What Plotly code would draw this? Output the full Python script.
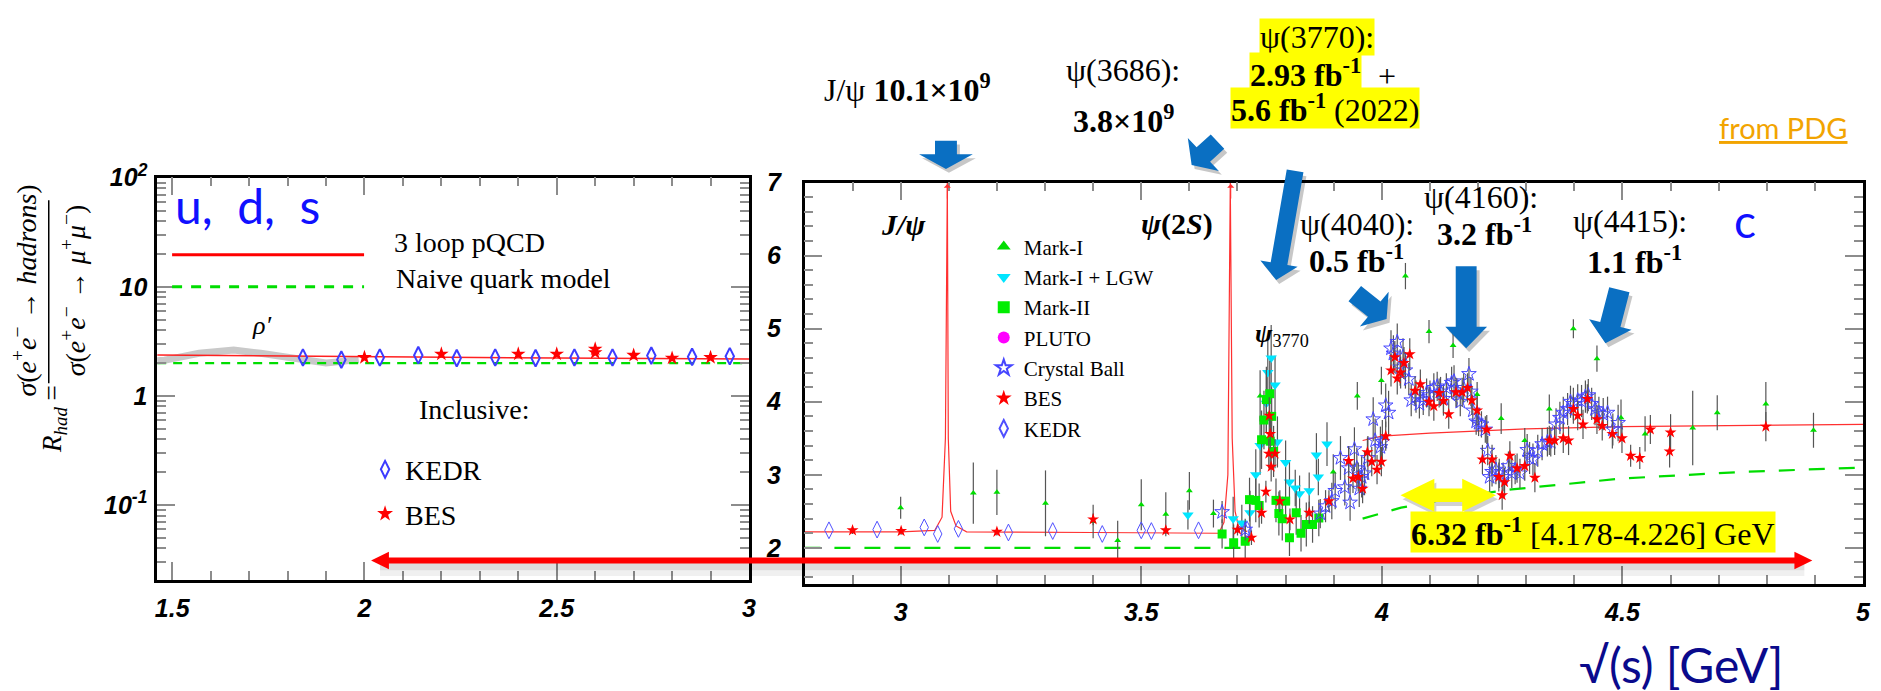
import math
import plotly.graph_objects as go

W, H = 1881, 691

# ---------------- left panel: light-quark region (log scale) ----------------
rho_E = [1.461, 1.48, 1.57, 1.66, 1.73, 1.80, 1.86, 1.90, 1.93, 1.985]
rho_R = [2.10, 2.12, 2.46, 2.64, 2.46, 2.28, 2.12, 2.00, 2.05, 2.15]

pqcd_left_E = [1.461, 2.0, 2.5, 3.0]
pqcd_left_R = [2.37, 2.28, 2.22, 2.18]
naive_left_E = [1.461, 3.0]
naive_left_R = [2.0, 2.0]

kedr_left_E = [1.84, 1.94, 2.04, 2.14, 2.24, 2.34, 2.445, 2.546, 2.645, 2.746, 2.852, 2.95]
kedr_left_R = [2.25, 2.15, 2.25, 2.36, 2.22, 2.25, 2.22, 2.25, 2.25, 2.34, 2.28, 2.31]
bes_left_E = [2.0, 2.2, 2.4, 2.5, 2.6, 2.6, 2.7, 2.8, 2.9]
bes_left_R = [2.25, 2.42, 2.42, 2.42, 2.69, 2.49, 2.36, 2.22, 2.25]

# ---------------- right panel: charm region ----------------
pqcd_E = [2.80, 3.00, 3.071, 3.086, 3.093, 3.097, 3.099, 3.104, 3.115, 3.137, 3.40,
          3.661, 3.672, 3.680, 3.685, 3.689, 3.695, 3.702, 3.72, None,
          3.96, 4.00, 4.10, 4.20, 4.30, 4.50, 4.75, 5.00]
pqcd_R = [2.22, 2.22, 2.24, 2.42, 3.50, 7.00, 3.50, 2.50, 2.30, 2.22, 2.21,
          2.20, 2.35, 3.00, 7.00, 3.50, 2.50, 2.30, 2.22, None,
          3.47, 3.53, 3.57, 3.60, 3.63, 3.66, 3.68, 3.69]

naive_E = [2.80, 3.72, None, 3.96, 4.04, 4.16, 4.27, 4.50, 4.75, 5.00]
naive_R = [2.00, 2.00, None, 2.40, 2.55, 2.70, 2.80, 2.95, 3.04, 3.10]

mark1_E = [3.000, 3.151, 3.200, 3.301, 3.400, 3.451, 3.500, 3.551, 3.600, 3.650,
           3.747, 3.899, 3.949, 3.999, 4.049, 4.098, 4.148, 4.198, 4.248, 4.297,
           4.348, 4.398, 4.447, 4.497, 4.547, 4.646, 4.697, 4.798, 4.897]
mark1_R = [2.55, 2.75, 2.76, 2.61, 2.36, 2.10, 2.59, 2.46, 2.78, 2.47,
           4.08, 3.04, 4.08, 4.29, 5.72, 4.96, 4.77, 4.10, 3.77, 3.47,
           3.90, 5.00, 4.59, 3.78, 3.56, 3.64, 3.85, 3.97, 3.61]
mark1_err = [0.15, 0.42, 0.31, 0.45, 0.23, 0.27, 0.35, 0.30, 0.26, 0.19,
             0.35, 0.24, 0.19, 0.19, 0.18, 0.16, 0.17, 0.17, 0.21, 0.17,
             0.20, 0.13, 0.18, 0.25, 0.24, 0.51, 0.24, 0.30, 0.24]

lgw_E = [3.597, 3.691, 3.709, 3.726, 3.738, 3.747, 3.760, 3.763, 3.770, 3.778,
         3.783, 3.800, 3.808, 3.820, 3.829, 3.849, 3.864, 3.868, 3.886]
lgw_R = [2.45, 2.40, 2.34, 2.48, 3.00, 3.40, 3.98, 4.40, 4.60, 4.23,
         3.45, 3.17, 2.90, 2.82, 2.74, 2.78, 3.27, 2.97, 3.42]
lgw_err = [0.20, 0.30, 0.25, 0.30, 0.35, 0.40, 0.40, 0.45, 0.45, 0.40,
           0.35, 0.30, 0.30, 0.25, 0.25, 0.25, 0.30, 0.25, 0.30]

mark2_E = [3.668, 3.692, 3.716, 3.725, 3.738, 3.745, 3.750, 3.755, 3.760, 3.767,
           3.771, 3.768, 3.775, 3.780, 3.786, 3.793, 3.800, 3.808, 3.822, 3.832,
           3.843, 3.856, 3.869]
mark2_R = [2.19, 2.07, 2.09, 2.66, 2.65, 2.58, 3.48, 3.75, 4.03, 4.11,
           3.80, 3.46, 3.32, 2.65, 2.47, 2.40, 2.64, 2.14, 2.48, 2.20,
           2.32, 2.32, 2.41]
mark2_err = [0.20, 0.25, 0.25, 0.30, 0.30, 0.30, 0.40, 0.40, 0.45, 0.45,
             0.40, 0.35, 0.35, 0.30, 0.30, 0.30, 0.30, 0.25, 0.30, 0.25,
             0.30, 0.25, 0.25]

# PLUTO has a legend entry but no point inside this window
pluto_E = [None]
pluto_R = [None]

cb_E = [3.668, 3.716, 3.872, 3.883, 3.896, 3.903, 3.914, 3.923, 3.931, 3.934,
        3.943, 3.948, 3.953, 3.958, 3.964, 3.971, 3.982, 3.986, 3.997, 4.001,
        4.008, 4.014, 4.019, 4.024, 4.032, 4.038, 4.044, 4.049, 4.056, 4.061,
        4.071, 4.078, 4.086, 4.093, 4.100, 4.108, 4.115, 4.122, 4.128, 4.134,
        4.145, 4.150, 4.156, 4.163, 4.170, 4.181, 4.185, 4.189, 4.196, 4.201,
        4.207, 4.215, 4.220, 4.224, 4.229, 4.237, 4.244, 4.252, 4.263, 4.270,
        4.277, 4.287, 4.302, 4.307, 4.314, 4.324, 4.333, 4.344, 4.351, 4.362,
        4.370, 4.377, 4.386, 4.392, 4.398, 4.407, 4.415, 4.423, 4.429, 4.436,
        4.443, 4.451, 4.460, 4.469, 4.480, 4.491]
cb_R = [2.49, 2.25, 2.47, 2.57, 2.64, 2.78, 3.23, 2.83, 3.09, 2.62,
        3.35, 3.09, 2.81, 2.97, 3.02, 3.23, 3.76, 3.47, 3.38, 3.45,
        3.95, 3.85, 4.73, 4.66, 4.82, 4.47, 4.62, 4.43, 4.31, 4.02,
        4.07, 3.97, 4.02, 4.12, 4.09, 4.19, 4.21, 4.14, 4.04, 4.19,
        4.26, 4.28, 4.12, 4.00, 4.19, 4.38, 4.14, 3.88, 3.73, 3.71,
        3.69, 3.62, 3.33, 2.97, 3.04, 3.07, 3.02, 2.97, 3.12, 3.02,
        3.07, 3.02, 3.34, 3.23, 3.21, 3.33, 3.42, 3.45, 3.45, 3.69,
        3.78, 3.85, 3.90, 4.00, 3.97, 4.02, 4.01, 4.07, 4.09, 3.97,
        3.90, 3.85, 3.83, 3.85, 3.62, 3.71]
cb_err = [0.15, 0.15, 0.20, 0.22, 0.25, 0.25, 0.30, 0.25, 0.30, 0.25,
          0.30, 0.28, 0.25, 0.28, 0.30, 0.30, 0.30, 0.30, 0.28, 0.30,
          0.30, 0.30, 0.25, 0.25, 0.25, 0.25, 0.25, 0.25, 0.22, 0.22,
          0.22, 0.20, 0.20, 0.20, 0.20, 0.20, 0.20, 0.20, 0.20, 0.20,
          0.22, 0.22, 0.20, 0.20, 0.20, 0.22, 0.20, 0.20, 0.18, 0.18,
          0.18, 0.18, 0.20, 0.20, 0.20, 0.20, 0.20, 0.20, 0.20, 0.20,
          0.20, 0.20, 0.22, 0.22, 0.22, 0.22, 0.22, 0.20, 0.20, 0.22,
          0.22, 0.22, 0.22, 0.22, 0.22, 0.22, 0.22, 0.22, 0.22, 0.22,
          0.22, 0.22, 0.22, 0.22, 0.22, 0.25]

bes_E = [2.900, 3.001, 3.200, 3.400, 3.551, 3.700, 3.729, 3.750, 3.759, 3.765,
         3.766, 3.768, 3.770, 3.778, 3.788, 3.809, 3.849, 3.890, 3.931, 3.940,
         3.951, 3.960, 3.970, 3.979, 3.990, 3.999, 4.008, 4.019, 4.027, 4.032,
         4.039, 4.046, 4.058, 4.069, 4.080, 4.098, 4.108, 4.119, 4.128, 4.139,
         4.154, 4.167, 4.178, 4.187, 4.198, 4.209, 4.218, 4.229, 4.243, 4.250,
         4.255, 4.266, 4.281, 4.297, 4.318, 4.348, 4.359, 4.377, 4.388, 4.398,
         4.407, 4.418, 4.427, 4.447, 4.458, 4.479, 4.499, 4.517, 4.536, 4.558,
         4.598, 4.600, 4.798]
bes_R = [2.24, 2.23, 2.22, 2.39, 2.24, 2.25, 2.14, 2.48, 2.77, 3.29,
         3.81, 3.56, 3.11, 3.29, 2.64, 2.39, 2.48, 2.64, 3.19, 2.95,
         2.97, 2.81, 3.31, 3.18, 3.07, 3.18, 3.53, 4.43, 4.61, 4.32,
         4.40, 4.53, 4.65, 4.15, 4.24, 4.00, 3.94, 4.12, 4.01, 3.83,
         4.13, 4.13, 4.19, 4.02, 3.88, 3.21, 3.62, 3.21, 2.97, 2.72,
         2.90, 3.26, 3.09, 3.12, 2.96, 3.47, 3.47, 3.50, 3.47, 3.90,
         3.81, 3.69, 4.04, 3.76, 3.67, 3.56, 3.50, 3.26, 3.23, 3.62,
         3.32, 3.58, 3.66]
bes_err = [0.05, 0.05, 0.05, 0.08, 0.05, 0.08, 0.10, 0.15, 0.15, 0.20,
           0.25, 0.20, 0.20, 0.20, 0.15, 0.15, 0.15, 0.15, 0.20, 0.20,
           0.20, 0.20, 0.20, 0.20, 0.20, 0.20, 0.20, 0.22, 0.22, 0.22,
           0.22, 0.22, 0.22, 0.20, 0.20, 0.20, 0.20, 0.20, 0.20, 0.20,
           0.20, 0.20, 0.20, 0.20, 0.20, 0.20, 0.20, 0.20, 0.20, 0.20,
           0.20, 0.20, 0.20, 0.20, 0.20, 0.20, 0.20, 0.20, 0.20, 0.20,
           0.20, 0.20, 0.20, 0.20, 0.20, 0.20, 0.20, 0.15, 0.15, 0.20,
           0.22, 0.25, 0.20]

kedr_E = [2.851, 2.951, 3.049, 3.077, 3.120, 3.224, 3.316, 3.419, 3.500, 3.521, 3.619, 3.720]
kedr_R = [2.24, 2.25, 2.28, 2.19, 2.26, 2.21, 2.23, 2.19, 2.24, 2.23, 2.24, 2.25]

spike_E = [3.097, 3.686]

# ---------------- styling ----------------
SERIF = "Liberation Serif"
SANS = "Liberation Sans"
TICK_GREY = "#8c8c8c"
ERR = dict(type="data", thickness=1.2, width=0, color="#555555")

fig = go.Figure()

# left panel traces
fig.add_trace(go.Scatter(x=rho_E, y=rho_R, mode="lines", line=dict(color="#c9c9c9", width=7),
                         showlegend=False, xaxis="x", yaxis="y"))
fig.add_trace(go.Scatter(x=pqcd_left_E, y=pqcd_left_R, mode="lines", line=dict(color="#ff2020", width=1.5),
                         showlegend=False, xaxis="x", yaxis="y"))
fig.add_trace(go.Scatter(x=naive_left_E, y=naive_left_R, mode="lines",
                         line=dict(color="#00dd00", width=2.2, dash="9px,7px"),
                         showlegend=False, xaxis="x", yaxis="y"))
fig.add_trace(go.Scatter(x=kedr_left_E, y=kedr_left_R, mode="markers", name="KEDR",
                         marker=dict(symbol="diamond-tall-open", size=12, color="#3c3cff", line=dict(width=2)),
                         legend="legend3", legendgroup="inc_kedr", xaxis="x", yaxis="y"))
fig.add_trace(go.Scatter(x=bes_left_E, y=bes_left_R, mode="markers", name="BES",
                         marker=dict(symbol="star", size=11, color="#ff0000"),
                         legend="legend3", legendgroup="inc_bes", xaxis="x", yaxis="y"))

# right panel curves
fig.add_trace(go.Scatter(x=pqcd_E, y=pqcd_R, mode="lines", line=dict(color="#ff3030", width=1.2),
                         showlegend=False, connectgaps=False, xaxis="x2", yaxis="y2"))
fig.add_trace(go.Scatter(x=naive_E, y=naive_R, mode="lines",
                         line=dict(color="#00dd00", width=2.2, dash="16px,14px"),
                         showlegend=False, connectgaps=False, xaxis="x2", yaxis="y2"))

# right panel data
fig.add_trace(go.Scatter(x=mark1_E, y=mark1_R, mode="markers", name="Mark-I",
                         error_y=dict(array=mark1_err, **ERR),
                         marker=dict(symbol="triangle-up", size=6, color="#00dd00"),
                         xaxis="x2", yaxis="y2"))
fig.add_trace(go.Scatter(x=lgw_E, y=lgw_R, mode="markers", name="Mark-I + LGW",
                         error_y=dict(array=lgw_err, **ERR),
                         marker=dict(symbol="triangle-down", size=10, color="#00e5ff"),
                         xaxis="x2", yaxis="y2"))
fig.add_trace(go.Scatter(x=mark2_E, y=mark2_R, mode="markers", name="Mark-II",
                         error_y=dict(array=mark2_err, **ERR),
                         marker=dict(symbol="square", size=9, color="#00ee00"),
                         xaxis="x2", yaxis="y2"))
fig.add_trace(go.Scatter(x=pluto_E, y=pluto_R, mode="markers", name="PLUTO",
                         marker=dict(symbol="circle", size=10, color="#ff00ff"),
                         xaxis="x2", yaxis="y2"))
fig.add_trace(go.Scatter(x=cb_E, y=cb_R, mode="markers", name="Crystal Ball",
                         error_y=dict(array=cb_err, **ERR),
                         marker=dict(symbol="star-open", size=11, color="#4646ff", line=dict(width=1)),
                         xaxis="x2", yaxis="y2"))
fig.add_trace(go.Scatter(x=bes_E, y=bes_R, mode="markers", name="BES",
                         error_y=dict(array=bes_err, **ERR),
                         marker=dict(symbol="star", size=9, color="#ff0000"),
                         xaxis="x2", yaxis="y2"))
fig.add_trace(go.Scatter(x=kedr_E, y=kedr_R, mode="markers", name="KEDR",
                         marker=dict(symbol="diamond-tall-open", size=12, color="#5050ff", line=dict(width=1)),
                         xaxis="x2", yaxis="y2"))


def px(x):
    return x / W


def py(y):
    return 1 - y / H


def path_of(pts):
    return "M " + " L ".join(f"{px(x):.5f},{py(y):.5f}" for x, y in pts) + " Z"


def block_arrow(tail, tip, shaft, head_w, head_len, dx=0, dy=0):
    (x0, y0), (x1, y1) = tail, tip
    L = math.hypot(x1 - x0, y1 - y0)
    ux, uy = (x1 - x0) / L, (y1 - y0) / L
    nx, ny = -uy, ux
    bx, by = x1 - ux * head_len, y1 - uy * head_len
    pts = [(x0 + nx * shaft / 2, y0 + ny * shaft / 2), (bx + nx * shaft / 2, by + ny * shaft / 2),
           (bx + nx * head_w / 2, by + ny * head_w / 2), (x1, y1),
           (bx - nx * head_w / 2, by - ny * head_w / 2), (bx - nx * shaft / 2, by - ny * shaft / 2),
           (x0 - nx * shaft / 2, y0 - ny * shaft / 2)]
    return path_of([(x + dx, y + dy) for x, y in pts])


def double_arrow(xl, xr, yc, shaft, head_h, head_len, dx=0, dy=0):
    pts = [(xl, yc), (xl + head_len, yc - head_h / 2), (xl + head_len, yc - shaft / 2),
           (xr - head_len, yc - shaft / 2), (xr - head_len, yc - head_h / 2), (xr, yc),
           (xr - head_len, yc + head_h / 2), (xr - head_len, yc + shaft / 2),
           (xl + head_len, yc + shaft / 2), (xl + head_len, yc + head_h / 2)]
    return path_of([(x + dx, y + dy) for x, y in pts])


BLUE = "#0a6fc2"
shapes = []
blue_arrows = [
    ((949, 126), (949, 155), 22, 54, 15),
    ((1222, 127), (1196, 151), 20, 46, 16),
    ((1300, 157), (1281, 269), 17, 38, 17),
    ((1360, 283), (1392, 309), 20, 46, 16),
    ((1472, 255), (1472, 339), 21, 42, 22),
    ((1626, 279), (1612, 334), 21, 44, 20),
]
for tail, tip, s, hw, hl in blue_arrows:
    shapes.append(dict(type="path", xref="paper", yref="paper", layer="above",
                       path=block_arrow(tail, tip, s, hw, hl, 3, 4),
                       fillcolor="rgba(0,0,0,0.22)", line=dict(width=0)))
    shapes.append(dict(type="path", xref="paper", yref="paper", layer="above",
                       path=block_arrow(tail, tip, s, hw, hl),
                       fillcolor=BLUE, line=dict(width=0)))

# yellow double arrow marking the 4.178-4.226 GeV scan
shapes.append(dict(type="path", xref="paper", yref="paper", layer="above",
                   path=double_arrow(1406, 1502, 490, 14, 34, 34, 2, 4),
                   fillcolor="rgba(0,0,0,0.18)", line=dict(width=0)))
shapes.append(dict(type="path", xref="paper", yref="paper", layer="above",
                   path=double_arrow(1406, 1502, 490, 14, 34, 34),
                   fillcolor="#ffff00", line=dict(width=0)))

# long red double arrow across both panels
shapes.append(dict(type="rect", xref="paper", yref="paper", layer="above",
                   x0=px(380), x1=px(1812), y0=py(567), y1=py(559),
                   fillcolor="rgba(0,0,0,0.13)", line=dict(width=0)))
shapes.append(dict(type="rect", xref="paper", yref="paper", layer="above",
                   x0=px(380), x1=px(1812), y0=py(573), y1=py(567),
                   fillcolor="rgba(0,0,0,0.06)", line=dict(width=0)))
shapes.append(dict(type="path", xref="paper", yref="paper", layer="above",
                   path=double_arrow(371, 1820, 557, 6, 18, 18),
                   fillcolor="#ff0000", line=dict(width=0)))

# legend keys of the model curves in the left panel
shapes.append(dict(type="line", xref="paper", yref="paper", layer="above",
                   x0=px(171), x1=px(364), y0=py(243), y1=py(243),
                   line=dict(color="#ff0000", width=3)))
shapes.append(dict(type="line", xref="paper", yref="paper", layer="above",
                   x0=px(171), x1=px(364), y0=py(276), y1=py(276),
                   line=dict(color="#00dd00", width=3, dash="10px,9px")))

# fraction bar of the R_had definition
shapes.append(dict(type="line", xref="paper", yref="paper",
                   x0=px(47), x1=px(47), y0=py(187), y1=py(375),
                   line=dict(color="black", width=1.5)))

annotations = []


def text(t, x, y, size=32, family=SERIF, color="black", xanchor="center", bg=None, angle=0):
    d = dict(text=t, x=px(x), y=py(y), xref="paper", yref="paper", showarrow=False,
             xanchor=xanchor, yanchor="middle", textangle=angle, borderpad=0,
             font=dict(family=family, size=size, color=color))
    if bg:
        d["bgcolor"] = bg
    annotations.append(d)


YEL = "#ffff00"
text("J/ψ <b>10.1×10<sup>9</sup></b>", 910, 72)
text("ψ(3686):", 1127, 53)
text("<b>3.8×10<sup>9</sup></b>", 1127, 104)
text("ψ(3770):", 1322, 20, bg=YEL)
text("<b>2.93 fb<sup>-1</sup></b>", 1310, 56, bg=YEL)
text("+", 1392, 60)
text("<b>5.6 fb<sup>-1</sup></b> (2022)", 1330, 92, bg=YEL)
text("ψ(4040):", 1362, 212)
text("<b>0.5 fb<sup>-1</sup></b>", 1362, 247)
text("ψ(4160):", 1487, 184)
text("<b>3.2 fb<sup>-1</sup></b>", 1490, 220)
text("ψ(4415):", 1637, 208)
text("<b>1.1 fb<sup>-1</sup></b>", 1641, 248)
text("<b>6.32 fb<sup>-1</sup></b> [4.178-4.226] GeV", 1600, 528, bg=YEL)
text("c", 1752, 208, size=46, family="Lato", color="#1010ff")
text("<u>from PDG</u>", 1791, 112, size=29, family="Lato", color="#f2a400")
text("√(s) [GeV]", 1688, 664, size=48, family="Lato", color="#0a0a8c")
text("u,\u00a0 d,\u00a0 s", 247, 193, size=48, family="Lato", color="#1010ff")
text("3 loop pQCD", 393, 231, size=28, xanchor="left")
text("Naive quark model", 395, 267, size=28, xanchor="left")
text("Inclusive:", 418, 402, size=28, xanchor="left")
text("<i>ρ′</i>", 261, 316, size=26)
text("<b><i>J/ψ</i></b>", 906, 212, size=30)
text("<b><i>ψ</i>(2<i>S</i>)</b>", 1181, 212, size=30)
text("<b><i>ψ</i></b><sub>3770</sub>", 1287, 325, size=26)
text("<i>R<sub>had</sub></i> =", 53, 412, size=27, angle=-90)
text("<i>σ</i>(<i>e</i><sup>+</sup><i>e</i><sup>−</sup> → <i>hadrons</i>)", 23, 280, size=28, angle=-90)
text("<i>σ</i>(<i>e</i><sup>+</sup><i>e</i><sup>−</sup> → <i>μ</i><sup>+</sup><i>μ</i><sup>−</sup>)", 72, 280,
     size=28, angle=-90)

# arrowheads on the narrow resonance peaks
for e in spike_E:
    annotations.append(dict(x=e, y=6.98, xref="x2", yref="y2", text="", showarrow=True,
                            ax=0, ay=16, arrowhead=1, arrowsize=1.2, arrowwidth=1,
                            arrowcolor="#ff3030"))

TICKFONT = dict(family=SANS, size=25, color="black", weight="bold", style="italic")
common = dict(showline=True, linecolor="black", linewidth=2.5, mirror="allticks",
              ticks="inside", tickcolor=TICK_GREY, tickwidth=1.5, ticklen=18,
              showgrid=False, zeroline=False, tickfont=TICKFONT)
minor = dict(ticks="inside", ticklen=9, tickcolor=TICK_GREY, tickwidth=1.5, showgrid=False)

fig.update_layout(
    width=W, height=H, margin=dict(l=0, r=0, t=0, b=0),
    paper_bgcolor="white", plot_bgcolor="white",
    shapes=shapes, annotations=annotations,
    xaxis=dict(domain=[px(156), px(751)], range=[1.461, 3.0], anchor="y",
               tickvals=[1.5, 2, 2.5, 3], ticktext=["1.5", "2", "2.5", "3"],
               minor=dict(dtick=0.1, tick0=1.5, **minor), ticklabelstandoff=4, **common),
    yaxis=dict(domain=[py(577), py(164)], type="log", range=[-1.6875, 2], anchor="x",
               tickvals=[0.1, 1, 10, 100], ticktext=["10<sup>-1</sup>", "1", "10", "10<sup>2</sup>"],
               minor=dict(dtick="D1", **minor), ticklabelstandoff=2, **common),
    xaxis2=dict(domain=[px(807), px(1871)], range=[2.8006, 5.0], anchor="y2",
                tickvals=[3, 3.5, 4, 4.5, 5], ticktext=["3", "3.5", "4", "4.5", "5"],
                minor=dict(dtick=0.1, tick0=3, **minor), ticklabelstandoff=4, **common),
    yaxis2=dict(domain=[py(581), py(169)], range=[1.507, 7.0], anchor="x2",
                tickvals=[2, 3, 4, 5, 6, 7], ticktext=["2", "3", "4", "5", "6", "7"],
                minor=dict(dtick=0.2, tick0=2, **minor), ticklabelstandoff=16, **common),
    legend=dict(x=px(987), y=py(214), xanchor="left", yanchor="top", bgcolor="rgba(0,0,0,0)",
                font=dict(family=SERIF, size=21, color="black"), itemsizing="constant",
                tracegroupgap=0),
    legend3=dict(x=px(365), y=py(438), xanchor="left", yanchor="top", bgcolor="rgba(0,0,0,0)",
                 font=dict(family=SERIF, size=28, color="black"), itemsizing="constant",
                 tracegroupgap=5),
)

fig.write_html("out.html")
